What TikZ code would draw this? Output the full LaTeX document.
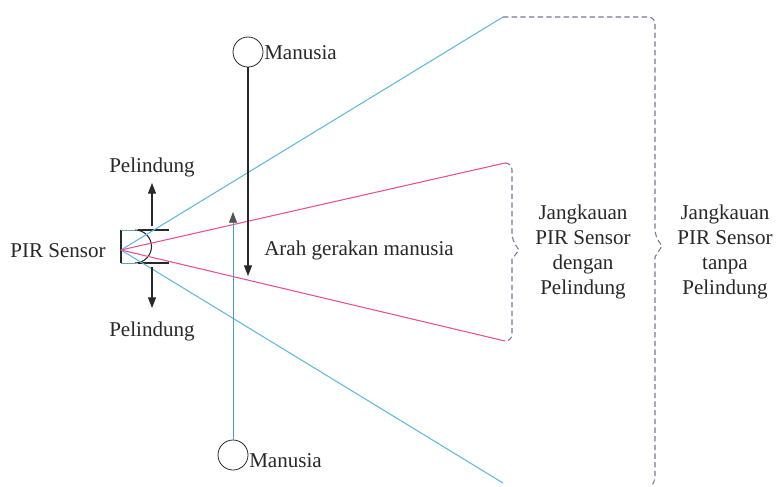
\documentclass[tikz,border=0pt]{standalone}
\usepackage{fontspec}
\setmainfont{Liberation Serif}
\usetikzlibrary{arrows.meta}
\definecolor{skyb}{RGB}{95,185,225}
\definecolor{pinkl}{RGB}{232,80,150}
\definecolor{dashc}{RGB}{120,120,150}
\definecolor{inkc}{RGB}{40,40,40}
\begin{document}
\begin{tikzpicture}[x=0.75pt,y=-0.75pt,
  lbl/.style={font=\fontsize{15.8pt}{18.6pt}\selectfont, text=inkc, inner sep=0pt, align=center},
  man/.style={circle, draw=inkc, line width=0.6pt, minimum size=22.5pt, inner sep=0pt},
  ray/.style={line width=0.8pt},
  brace/.style={draw=dashc, line width=0.8pt, dash pattern=on 4pt off 2.5pt, rounded corners=5pt},
  mv/.style={-{Triangle[length=8pt,width=6pt]}, line width=0.8pt},
  shield/.style={draw=inkc, line width=0.8pt}]
\useasboundingbox (0,0) rectangle (778,486);
% sensor
\coordinate (apex) at (121,250);
\coordinate (bt) at (135,230);
\coordinate (bb) at (135,263);
\draw[shield] (121,230) -- (121,263);
\draw[draw=skyb!60!gray, line width=0.6pt] (121,230) -- (bt) (121,263) -- (bb);
\draw[shield] (bt) arc[start angle=-90, end angle=90, x radius=16.5, y radius=16.5];
\draw[shield] (138,230) -- (169,230) (138,263) -- (169,263);
% rays
\coordinate (bU) at (503,17);
\coordinate (bD) at (503,483);
\coordinate (pU) at (505,163);
\coordinate (pD) at (505,341);
\draw[ray, skyb] (apex) -- (bU);
\draw[ray, skyb] (apex) -- (bD);
\draw[ray, pinkl] (apex) -- (pU);
\draw[ray, pinkl] (apex) -- (pD);
% shield arrows
\node[lbl] (pl1) at (152,167) {Pelindung};
\node[lbl] (pl2) at (152,331) {Pelindung};
\coordinate (s1) at (152,226);
\coordinate (s2) at (152,267);
\draw[mv, inkc] (s1) -- (pl1.south |- 0,183);
\draw[mv, inkc] (s2) -- (pl2.north |- 0,308);
\node[lbl, anchor=east] (pir) at (106,251) {PIR Sensor};
% humans
\node[man] (m1) at (248,52) {};
\node[lbl, anchor=west] (t1) at (264,53) {Manusia};
\node[man] (m2) at (233,455) {};
\node[lbl, anchor=west] (t2) at (249,461) {Manusia};
\coordinate (e1) at (248,276);
\coordinate (e2) at (233,212);
\draw[mv, inkc] (m1.south) -- (e1);
\draw[line width=0.6pt, skyb!85!black, -{Triangle[length=8pt,width=6pt,color=inkc!80]}] (m2.north) -- (e2);
\node[lbl, anchor=west] (arah) at (264,250) {Arah gerakan manusia};
% braces
\draw[brace] (pU) -- (512,163) -- (512,240) [rounded corners=0pt] -- (519,250) -- (512,259) [rounded corners=5pt] -- (512,341) -- (pD);
\draw[brace] (bU) -- (655,17) -- (655,236) [rounded corners=0pt] -- (662,246) -- (655,257) [rounded corners=5pt] -- (655,483) -- (648,490);
\node[lbl] (j1) at (583,252) {Jangkauan\\PIR Sensor\\dengan\\Pelindung};
\node[lbl] (j2) at (725,252) {Jangkauan\\PIR Sensor\\tanpa\\Pelindung};
\end{tikzpicture}
\end{document}
